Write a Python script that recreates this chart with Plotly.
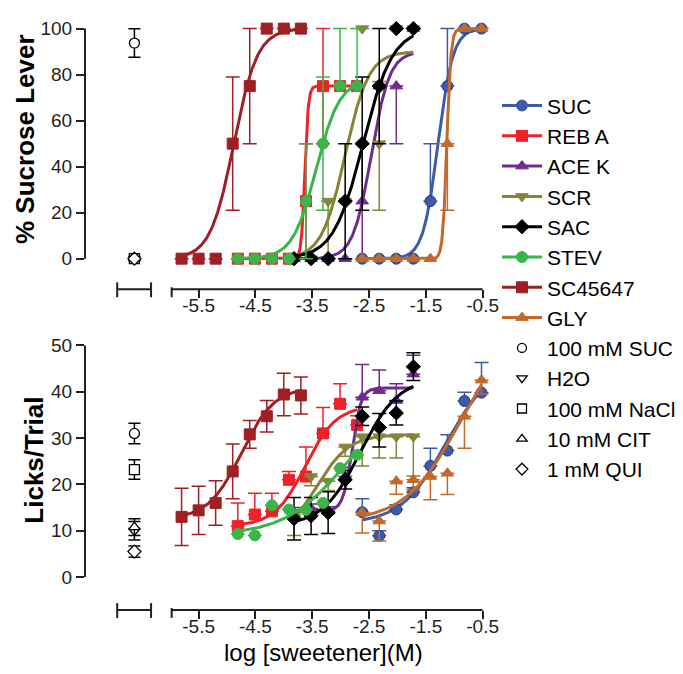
import numpy as np
import plotly.graph_objects as go

W, H = 683, 674
ML, MR, MT, MB = 77, 196, 10, 72
PW = W - ML - MR
PH = H - MT - MB

XR = [-7.5, -0.3]
Y1R = [-13.3, 102]
Y2R = [-7.1, 51]

# ---------------- data ----------------
series_names = ["SUC", "REB A", "ACE K", "SCR", "SAC", "STEV", "SC45647", "GLY"]
series_colors = ["#3D5BA9", "#EC2227", "#6F2C8C", "#868438", "#000000", "#3BB44A", "#9E1F24", "#C2692B"]
series_symbols = ["circle", "square", "triangle-up", "triangle-down", "diamond", "circle", "square", "triangle-up"]

x_suc = [-2.62, -2.32, -2.02, -1.72, -1.42, -1.12, -0.82, -0.52]
x_reb = [-4.81, -4.51, -4.21, -3.91, -3.61, -3.31, -3.01, -2.71]
x_acek = [-3.82, -3.52, -3.22, -2.92, -2.62, -2.32, -2.02, -1.72]
x_scr = [-3.82, -3.52, -3.22, -2.92, -2.62, -2.32, -2.02, -1.72]
x_sac = [-3.82, -3.52, -3.22, -2.92, -2.62, -2.32, -2.02, -1.72]
x_stev = [-4.81, -4.51, -4.21, -3.91, -3.61, -3.31, -3.01, -2.71]
x_sc = [-5.80, -5.50, -5.20, -4.90, -4.60, -4.30, -4.00, -3.70]
x_gly = [-2.62, -2.32, -2.02, -1.72, -1.42, -1.12, -0.82, -0.52]

# % sucrose lever (top panel)
pct_suc = [0, 0, 0, 0, 25, 75, 100, 100]
pct_reb = [0, 0, 0, 0, 25, 75, 75, 75]
pct_acek = [0, 0, 0, 0, 25, 75, 75, 100]
pct_scr = [0, 0, 25, 25, 100, 50, 100, 100]
pct_sac = [0, 0, 0, 25, 50, 75, 100, 100]
pct_stev = [0, 0, 0, 0, 25, 50, 75, 75]
pct_sc = [0, 0, 0, 50, 75, 100, 100, 100]
pct_gly = [0, 0, 0, 0, 0, 50, 100, 100]

pct_err_up_suc = [0, 0, 0, 0, 25, 25, 0, 0]
pct_err_dn_suc = [0, 0, 0, 0, 0, 0, 0, 0]
pct_err_up_reb = [0, 0, 0, 0, 25, 25, 0, 0]
pct_err_dn_reb = [0, 0, 0, 0, 25, 25, 0, 0]
pct_err_up_acek = [0, 0, 0, 0, 25, 0, 0, 0]
pct_err_dn_acek = [0, 0, 0, 0, 25, 0, 25, 0]
pct_err_up_scr = [0, 0, 0, 0, 0, 27, 0, 0]
pct_err_dn_scr = [0, 0, 25, 0, 0, 29, 0, 0]
pct_err_up_sac = [0, 0, 0, 25, 29, 25, 0, 0]
pct_err_dn_sac = [0, 0, 0, 25, 29, 25, 0, 0]
pct_err_up_stev = [0, 0, 0, 0, 25, 29, 25, 25]
pct_err_dn_stev = [0, 0, 0, 0, 25, 29, 0, 0]
pct_err_up_sc = [0, 0, 0, 29, 25, 0, 0, 0]
pct_err_dn_sc = [0, 0, 0, 29, 25, 0, 0, 0]
pct_err_up_gly = [0, 0, 0, 0, 0, 0, 0, 0]
pct_err_dn_gly = [0, 0, 0, 0, 0, 29, 0, 0]

# licks / trial (bottom panel)
lick_suc = [14.0, 8.9, 14.6, 18.3, 24.0, 27.3, 38.0, 39.8]
lick_reb = [11.0, 13.5, 14.2, 21.0, 21.7, 31.0, 37.4, 32.8]
lick_acek = [14.0, 14.8, 14.2, 21.7, 38.8, 40.2, 38.1, 43.8]
lick_scr = [13.0, 21.7, 20.7, 28.1, 30.3, 30.3, 30.3, 30.3]
lick_sac = [12.6, 13.2, 13.9, 21.0, 34.7, 32.3, 35.4, 45.4]
lick_stev = [9.3, 9.0, 15.5, 14.6, 14.5, 16.0, 23.5, 26.4]
lick_sc = [13.0, 14.4, 16.0, 22.8, 30.8, 34.7, 39.4, 39.2]
lick_gly = [13.9, 12.1, 20.7, 21.0, 21.7, 22.4, 34.7, 42.5]

lick_err_up_suc = [2.9, 1.1, 1.0, 1.0, 3.8, 3.4, 1.9, 6.5]
lick_err_dn_suc = [0, 0, 0, 0, 0, 0, 0, 0]
lick_err_up_reb = [5.0, 4.6, 3.9, 1.8, 6.4, 5.6, 4.3, 2.0]
lick_err_dn_reb = [0, 0, 0, 0, 0, 0, 0, 0]
lick_err_up_acek = [1.0, 1.0, 1.0, 2.0, 7.1, 4.5, 3.6, 4.1]
lick_err_dn_acek = [0, 0, 0, 0, 0, 0, 0, 0]
lick_err_up_scr = [0, 0, 0, 0, 0, 0, 0, 0]
lick_err_dn_scr = [4.0, 2.0, 2.0, 2.0, 6.3, 4.6, 4.6, 8.5]
lick_err_up_sac = [4.6, 4.0, 4.5, 2.0, 2.0, 3.0, 2.6, 3.0]
lick_err_dn_sac = [4.6, 4.0, 4.5, 2.0, 2.0, 4.2, 2.6, 3.0]
lick_err_up_stev = [0, 0, 0, 0, 0, 0, 0, 0]
lick_err_dn_stev = [0, 0, 0, 0, 0, 0, 0, 0]
lick_err_up_sc = [6.2, 5.2, 4.8, 5.9, 3.0, 3.4, 4.6, 4.0]
lick_err_dn_sc = [6.2, 5.2, 4.8, 5.9, 3.0, 3.4, 4.6, 4.0]
lick_err_up_gly = [0, 0, 0, 0, 0, 0, 0, 0]
lick_err_dn_gly = [4.4, 4.3, 2.8, 2.2, 5.0, 4.6, 6.9, 3.0]

# fitted sigmoid parameters: bottom, top, logEC50, hill
fit_pct_suc = [0, 100, -1.285, 3.3]
fit_pct_reb = [0, 75, -3.63, 14]
fit_pct_acek = [0, 90, -2.46, 2.7]
fit_pct_scr = [0, 90, -2.92, 2.1]
fit_pct_sac = [0, 100, -2.605, 1.67]
fit_pct_stev = [0, 78, -3.43, 2.1]
fit_pct_sc = [0, 100, -4.88, 2.1]
fit_pct_gly = [0, 100, -1.13, 12]

fit_lick_suc = [11.5, 46, -1.15, 1.1]
fit_lick_reb = [11, 37, -3.62, 1.6]
fit_lick_acek = [14.3, 40.8, -2.8, 5.5]
fit_lick_scr = [8, 30.8, -3.43, 1.5]
fit_lick_sac = [11, 43, -2.65, 1.3]
fit_lick_stev = [9, 40, -2.9, 0.8]
fit_lick_sc = [12.5, 41, -4.75, 1.5]
fit_lick_gly = [12, 55, -0.9, 0.9]

# controls
ctrl_names = ["100 mM SUC", "H2O", "100 mM NaCl", "10 mM CIT", "1 mM QUI"]
ctrl_symbols = ["circle-open", "triangle-down-open", "square-open", "triangle-up-open", "diamond-open"]
ctrl_x = -6.63
ctrl_pct = [93.7, 0, 0, 0, 0]
ctrl_pct_err = [6.2, 0, 0, 0, 0]
ctrl_lick = [31.0, 10.0, 23.2, 10.8, 5.5]
ctrl_lick_err = [2.2, 2.0, 2.1, 1.8, 1.2]

xtick_vals = [-5.5, -4.5, -3.5, -2.5, -1.5, -0.5]
xtick_text = ["-5.5", "-4.5", "-3.5", "-2.5", "-1.5", "-0.5"]
y1tick_vals = [0, 20, 40, 60, 80, 100]
y2tick_vals = [0, 10, 20, 30, 40, 50]

xs_all = [x_suc, x_reb, x_acek, x_scr, x_sac, x_stev, x_sc, x_gly]
pct_all = [pct_suc, pct_reb, pct_acek, pct_scr, pct_sac, pct_stev, pct_sc, pct_gly]
pct_up = [pct_err_up_suc, pct_err_up_reb, pct_err_up_acek, pct_err_up_scr, pct_err_up_sac, pct_err_up_stev, pct_err_up_sc, pct_err_up_gly]
pct_dn = [pct_err_dn_suc, pct_err_dn_reb, pct_err_dn_acek, pct_err_dn_scr, pct_err_dn_sac, pct_err_dn_stev, pct_err_dn_sc, pct_err_dn_gly]
lick_all = [lick_suc, lick_reb, lick_acek, lick_scr, lick_sac, lick_stev, lick_sc, lick_gly]
lick_up = [lick_err_up_suc, lick_err_up_reb, lick_err_up_acek, lick_err_up_scr, lick_err_up_sac, lick_err_up_stev, lick_err_up_sc, lick_err_up_gly]
lick_dn = [lick_err_dn_suc, lick_err_dn_reb, lick_err_dn_acek, lick_err_dn_scr, lick_err_dn_sac, lick_err_dn_stev, lick_err_dn_sc, lick_err_dn_gly]
fit_pct_all = [fit_pct_suc, fit_pct_reb, fit_pct_acek, fit_pct_scr, fit_pct_sac, fit_pct_stev, fit_pct_sc, fit_pct_gly]
fit_lick_all = [fit_lick_suc, fit_lick_reb, fit_lick_acek, fit_lick_scr, fit_lick_sac, fit_lick_stev, fit_lick_sc, fit_lick_gly]

# ---------------- layout helpers ----------------
def ydom(top_px, bot_px):
    return [(H - MB - bot_px) / PH, (H - MB - top_px) / PH]

dom1 = ydom(10, 278)
dom2 = ydom(330, 602)

def xp(xd):
    return (xd - XR[0]) / (XR[1] - XR[0])

def yp(yd, dom, rng):
    return dom[0] + (yd - rng[0]) / (rng[1] - rng[0]) * (dom[1] - dom[0])

def curve(p, xs):
    xx = np.linspace(min(xs), max(xs), 300)
    b, t, e, h = p
    return xx, b + (t - b) / (1 + 10 ** ((e - xx) * h))

FONT = "Liberation Sans, Arial, sans-serif"
AX = "#231F20"

fig = go.Figure()

# legend entries
for name, col, sym in zip(series_names, series_colors, series_symbols):
    fig.add_trace(go.Scatter(x=[None], y=[None], mode="lines+markers", name=name,
                             line=dict(color=col, width=3),
                             marker=dict(symbol=sym, size=11, color=col,
                                         line=dict(width=1, color=col))))
for name, sym in zip(ctrl_names, ctrl_symbols):
    fig.add_trace(go.Scatter(x=[None], y=[None], mode="markers", name=name,
                             marker=dict(symbol=sym, size=9, color="black",
                                         line=dict(width=1.3, color="black"))))

def add_panel(xa, ya, vals_all, up_all, dn_all, fits):
    for i in range(8):
        col = series_colors[i]
        cx, cy = curve(fits[i], xs_all[i])
        fig.add_trace(go.Scatter(x=cx, y=cy, mode="lines", xaxis=xa, yaxis=ya,
                                 line=dict(color=col, width=3), showlegend=False,
                                 hoverinfo="skip", cliponaxis=False))
        mcol = "#1F3A7A" if i == 0 else col
        fig.add_trace(go.Scatter(x=xs_all[i], y=vals_all[i], mode="markers",
                                 xaxis=xa, yaxis=ya, showlegend=False, cliponaxis=False,
                                 marker=dict(symbol=series_symbols[i], size=11, color=col,
                                             line=dict(width=1, color=mcol)),
                                 error_y=dict(type="data", symmetric=False,
                                              array=up_all[i], arrayminus=dn_all[i],
                                              color=col, thickness=1.5, width=7)))

add_panel("x", "y", pct_all, pct_up, pct_dn, fit_pct_all)
add_panel("x2", "y2", lick_all, lick_up, lick_dn, fit_lick_all)

for vals, errs, xa, ya in [(ctrl_pct, ctrl_pct_err, "x", "y"), (ctrl_lick, ctrl_lick_err, "x2", "y2")]:
    for j in range(5):
        fig.add_trace(go.Scatter(x=[ctrl_x], y=[vals[j]], mode="markers", xaxis=xa, yaxis=ya,
                                 showlegend=False, cliponaxis=False,
                                 marker=dict(symbol=ctrl_symbols[j].replace("-open", ""), size=10,
                                             color="white", line=dict(width=1.3, color="black")),
                                 error_y=dict(type="data", array=[errs[j]], color="black",
                                              thickness=1.5, width=6)))

# axis lines (broken x axis)
shapes = []
line_style = dict(color=AX, width=2)
for dom, rng, ymax in [(dom1, Y1R, 100), (dom2, Y2R, 50)]:
    yb = dom[0]
    d = 1.0 / PH
    shapes.append(dict(type="line", xref="paper", yref="paper", x0=0, x1=0,
                       y0=yp(0, dom, rng), y1=yp(ymax, dom, rng), line=line_style))
    # control segment
    a, b = xp(-6.933), xp(-6.337)
    shapes.append(dict(type="line", xref="paper", yref="paper", x0=a, x1=b, y0=yb, y1=yb, line=line_style))
    for xx in (a, b):
        shapes.append(dict(type="line", xref="paper", yref="paper", x0=xx, x1=xx,
                           y0=yb - 8 * d, y1=yb + 7 * d, line=line_style))
    # main segment
    a, b = xp(-5.974), xp(-0.5)
    shapes.append(dict(type="line", xref="paper", yref="paper", x0=a, x1=b, y0=yb, y1=yb, line=line_style))
    shapes.append(dict(type="line", xref="paper", yref="paper", x0=a, x1=a,
                       y0=yb - 8 * d, y1=yb + 2 * d, line=line_style))

tickfont = dict(family=FONT, size=19, color=AX)
xaxis_common = dict(range=XR, showgrid=False, zeroline=False, showline=False,
                    tickmode="array", tickvals=xtick_vals, ticktext=xtick_text,
                    ticks="outside", ticklen=8, tickwidth=2, tickcolor=AX, tickfont=tickfont,
                    ticklabelstandoff=-9)
yaxis_common = dict(showgrid=False, zeroline=False, showline=False, tickmode="array",
                    ticks="outside", ticklen=8, tickwidth=2, tickcolor=AX, tickfont=tickfont)

fig.update_layout(
    width=W, height=H,
    margin=dict(l=ML, r=MR, t=MT, b=MB),
    plot_bgcolor="white", paper_bgcolor="white",
    xaxis=dict(domain=[0, 1], anchor="y", **xaxis_common),
    xaxis2=dict(domain=[0, 1], anchor="y2", **xaxis_common),
    yaxis=dict(domain=dom1, anchor="x", range=Y1R, tickvals=y1tick_vals, **yaxis_common),
    yaxis2=dict(domain=dom2, anchor="x2", range=Y2R, tickvals=y2tick_vals, **yaxis_common),
    shapes=shapes,
    showlegend=True,
    legend=dict(x=(490 - ML) / PW, xanchor="left", y=(H - MB - 72) / PH, yanchor="top",
                font=dict(family=FONT, size=21, color="black"), itemwidth=40,
                tracegroupgap=0, bgcolor="rgba(0,0,0,0)"),
    annotations=[
        dict(text="<b>% Sucrose Lever</b>", xref="paper", yref="paper",
             x=(17 - ML) / PW, y=(H - MB - 126) / PH, textangle=-90, showarrow=False,
             xanchor="center", yanchor="middle", font=dict(family=FONT, size=26, color="black")),
        dict(text="<b>Licks/Trial</b>", xref="paper", yref="paper",
             x=(25 - ML) / PW, y=(H - MB - 451) / PH, textangle=-90, showarrow=False,
             xanchor="center", yanchor="middle", font=dict(family=FONT, size=26, color="black")),
        dict(text="log [sweetener](M)", xref="paper", yref="paper",
             x=(316 - ML) / PW, y=(H - MB - 645) / PH, showarrow=False,
             xanchor="center", yanchor="middle", font=dict(family=FONT, size=24, color="black")),
    ],
)

fig.write_html("out.html")
